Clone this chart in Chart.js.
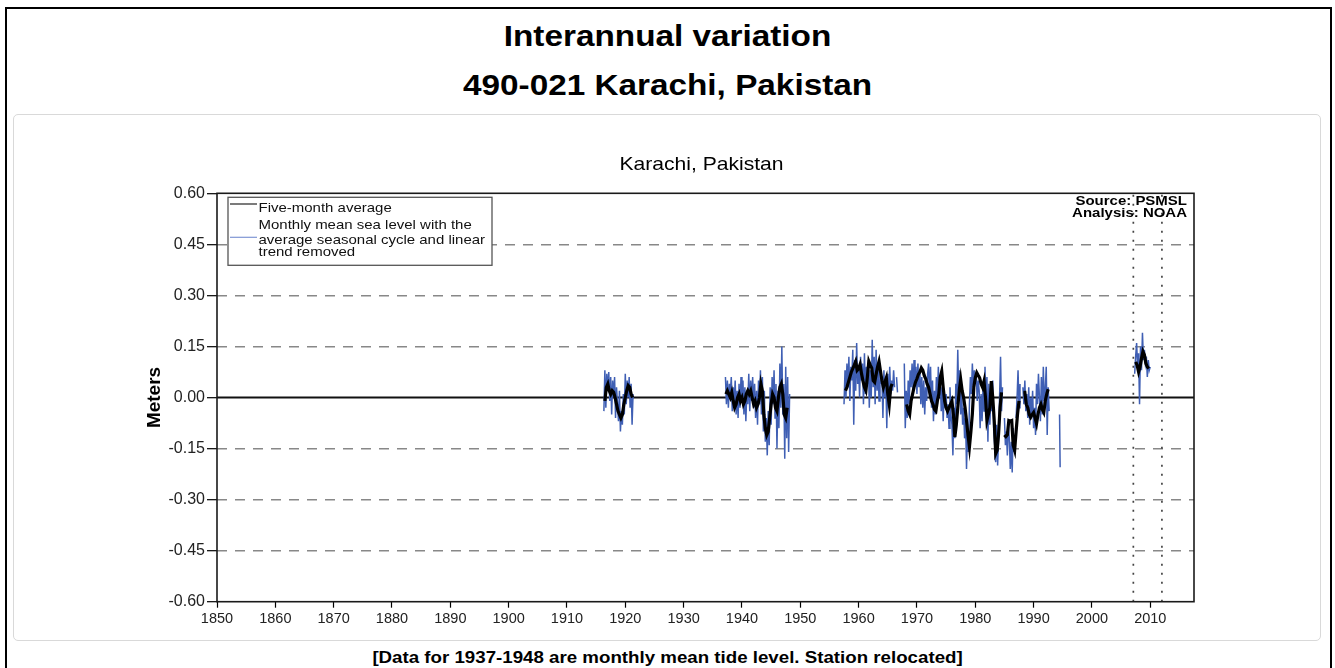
<!DOCTYPE html>
<html>
<head>
<meta charset="utf-8">
<script src="https://cdn.jsdelivr.net/npm/chart.js@4.4.1/dist/chart.umd.min.js"></script>
<style>
body { margin: 0; background: #fff; font-family: Arial, "Liberation Sans", sans-serif; }
#frame { position: absolute; left: 5px; top: 7px; width: 1327px; height: 700px; border: 2px solid #000; box-sizing: border-box; }
.head { position: absolute; left: 0; width: 1335px; text-align: center; font-weight: bold; color: #000; transform: scaleX(1.11); transform-origin: 667px 0; white-space: nowrap; }
.h1 { font-size: 30px; line-height: 30px; }
#note { font-size: 17px; line-height: 17px; transform: scaleX(1.1); }
#panel { position: absolute; left: 13px; top: 114px; width: 1308px; height: 527px; border: 1px solid #d9d9d9; border-radius: 5px; box-sizing: border-box; }
#c { position: absolute; left: 13px; top: 114px; }
</style>
</head>
<body>
<div id="frame"></div>
<div class="head h1" style="top:21px">Interannual variation</div>
<div class="head h1" style="top:70px">490-021 Karachi, Pakistan</div>
<div id="panel"></div>
<canvas id="c" width="1308" height="527"></canvas>
<div class="head" id="note" style="top:649px">[Data for 1937-1948 are monthly mean tide level. Station relocated]</div>
<script>
// axis ticks
const xTicks = [1850, 1860, 1870, 1880, 1890, 1900, 1910, 1920, 1930, 1940, 1950, 1960, 1970, 1980, 1990, 2000, 2010];
const yTicks = [-0.60, -0.45, -0.30, -0.15, 0.00, 0.15, 0.30, 0.45, 0.60];

// station relocation markers (years)
const markerYears = [2007.1, 2012.0];

// monthly mean sea level, seasonal cycle + trend removed (read every ~2 months)
const mon1916 = [-0.04, 0.08, -0.03, 0.07, 0.02, 0.075, -0.01, 0.06, -0.05, 0.05, 0.00, 0.06, -0.06, 0.03, -0.02, -0.07,
  0.02, -0.10, -0.04, -0.08, 0.01, -0.05, 0.07, -0.02, 0.05, 0.00, 0.06, -0.03, 0.04, -0.08, 0.01];
const mon1937 = [
  0.06, -0.02, 0.05, -0.03, 0.04, 0.01,
  0.06, -0.04, 0.03, -0.02, 0.05, -0.05,
  0.02, -0.06, 0.04, -0.03, 0.06, -0.01,
  0.05, -0.05, 0.03, -0.07, 0.02, -0.02,
  0.07, -0.04, 0.05, -0.01, 0.06, -0.03,
  0.04, -0.06, 0.02, -0.08, 0.05, -0.02,
  0.08, -0.05, 0.06, -0.10, 0.02, -0.13,
  -0.06, -0.17, -0.04, -0.14, 0.03, -0.08,
  0.06, -0.02, 0.08, -0.06, 0.04, -0.15,
  0.02, -0.09, 0.10, -0.03, 0.15, -0.05,
  0.04, -0.18, 0.09, -0.12, 0.06, -0.16,
  0.01];
const mon1957 = [
  -0.02, 0.08, 0.00,
  0.10, 0.03, 0.12, -0.01, 0.09, 0.05,
  0.14, -0.08, 0.11, 0.02, 0.16, 0.04,
  0.09, 0.00, 0.12, 0.05, 0.10, -0.02,
  0.13, 0.01, 0.09, 0.04, 0.11, -0.03,
  0.08, 0.00, 0.17, 0.03, 0.12, -0.02,
  0.14, 0.02, 0.09, -0.01, 0.10, 0.04,
  0.06, -0.06, 0.08, 0.00, 0.05, -0.09,
  0.07, -0.02, 0.09, 0.01, 0.05, 0.02,
  0.08, 0.03, null, 0.06, 0.015, null,
  null, null, null, null, null, 0.10,
  -0.09, 0.02, -0.06, 0.05, -0.02, 0.08,
  0.03, 0.10, 0.02, 0.11, 0.04, 0.09,
  0.01, 0.10, 0.03, 0.08, -0.02, 0.06,
  -0.03, 0.05, -0.05, 0.03, -0.01, 0.07,
  0.10, 0.00, 0.09, -0.03, 0.05, -0.07,
  0.02, -0.05, 0.06, -0.02, 0.09, 0.01,
  0.05, -0.04, 0.03, -0.07, 0.02, -0.03,
  0.01, -0.06, -0.02, -0.09, 0.03, -0.05,
  -0.08, -0.17, -0.03, -0.12, 0.04, -0.02,
  0.14, 0.00, 0.08, -0.05, 0.02, -0.08,
  -0.03, -0.12, -0.06, -0.21, -0.10, -0.16,
  -0.02, 0.06, 0.01, 0.10, 0.03, 0.08,
  0.04, 0.07, -0.01, 0.05, 0.02, -0.09,
  0.01, -0.07, 0.03, -0.04, 0.09, -0.02,
  0.06, -0.13, 0.04, -0.08, 0.00, -0.04,
  0.05, -0.10, -0.14, -0.19, -0.08, -0.20,
  -0.12, 0.00, 0.12, -0.04, 0.03, null,
  -0.06, -0.14, -0.10, -0.17, -0.08, -0.12,
  -0.21, -0.13, -0.22, -0.09, -0.16, null,
  -0.06, 0.00, 0.08, -0.03, 0.04, null,
  null, 0.03, -0.02, 0.05, -0.04, 0.01,
  -0.06, 0.03, -0.08, 0.00, -0.05, 0.02,
  -0.09, -0.03, -0.11, 0.04, -0.02, 0.07,
  0.00, -0.07, 0.06, -0.05, 0.09, -0.01,
  0.02, 0.09, -0.11, 0.03, -0.04];
const mon1994 = [-0.05, -0.205];
const mon2007 = [0.07, 0.12, 0.16, 0.09, 0.13, -0.02, 0.15, 0.08, 0.19, 0.11, 0.14, 0.10, 0.12, 0.06, 0.11, 0.08, 0.09];

// five-month average (read quarterly)
const avg1916 = [-0.01, 0.03, 0.04, 0.02, 0.01, 0.02, 0.015, 0.00, -0.02, -0.04, -0.05, -0.06, -0.05, -0.02, 0.00, 0.02,
  0.035, 0.03, 0.01, 0.00];
const avg1937 = [
  0.01, 0.02, 0.01, 0.00,
  0.015, -0.01, -0.03, -0.02,
  0.00, 0.01, -0.01, 0.00,
  -0.02, -0.01, 0.01, 0.02,
  0.01, 0.02, 0.00, -0.02,
  -0.01, -0.03, -0.02, 0.00,
  0.04, 0.02, -0.05, -0.09,
  -0.11, -0.10, -0.06, -0.02,
  0.01, 0.00, -0.03, -0.04,
  0.00, 0.03, 0.04, 0.01,
  -0.05, -0.06, -0.03];
const avg1957 = [
  0.02,
  0.03, 0.045, 0.06, 0.075,
  0.085, 0.095, 0.106, 0.08,
  0.085, 0.097, 0.07, 0.048,
  0.03, 0.02, 0.06, 0.106,
  0.095, 0.087, 0.05, 0.045,
  0.068, 0.09, 0.106, 0.077,
  0.05, 0.03, 0.045, 0.058,
  0.01, -0.02, 0.03, 0.04,
  null, null, null, null,
  null, null, null, null,
  null, -0.02, -0.04, -0.05,
  -0.01, 0.01, 0.03, 0.045,
  0.055, 0.068, 0.075, 0.087,
  0.08, 0.065, 0.055, 0.04,
  0.03, 0.01, -0.01, -0.02,
  -0.035, -0.04, -0.01, 0.01,
  0.06, 0.077, 0.03, -0.01,
  -0.03, -0.04, -0.03, -0.02,
  -0.01, -0.05, -0.116, -0.08,
  -0.03, 0.02, 0.053, 0.02,
  0.00, -0.03, -0.068, -0.11,
  -0.145, -0.10, -0.048, 0.03,
  0.058, 0.073, 0.065, 0.058,
  0.04, 0.03, 0.048, 0.00,
  -0.068, -0.05, -0.03, 0.048,
  0.00, -0.068, -0.165, -0.155,
  -0.106, -0.03, 0.015, null,
  -0.11, -0.115, -0.11, -0.068,
  -0.07, -0.068, -0.14, -0.155,
  -0.10, -0.048, -0.01, null,
  null, 0.015, 0.015, -0.02,
  -0.03, -0.05, -0.058, -0.05,
  -0.044, -0.06, -0.077, -0.05,
  -0.03, -0.02, -0.035, -0.044,
  -0.01, 0.01, 0.024];
const avg2007 = [0.105, 0.095, 0.075, 0.09, 0.115, 0.135, 0.125, 0.10, 0.09, 0.085];

const M = 1 / 6;
const monthlyParts = [[1916.33, M, mon1916], [1937.17, M, mon1937], [1957.5, M, mon1957], [1994.45, 0.1, mon1994], [2007.33, M, mon2007]];
const averageParts = [[1916.5, 0.25, avg1916], [1937.25, 0.25, avg1937], [1957.75, 0.25, avg1957], [2007.5, 0.25, avg2007]];

const BLUE = '#3f5fb4';
const FONT = 'Arial, "Liberation Sans", sans-serif';

// turn record pieces into {x, y} points with a break between them
function series(parts) {
  const pts = [];
  parts.forEach(([start, step, vals], k) => {
    if (k > 0) pts.push({x: start - step, y: null});
    vals.forEach((v, i) => pts.push({x: start + i * step, y: v}));
  });
  return pts;
}

function wideText(ctx, text, x, y, align) {
  ctx.save();
  ctx.translate(x, y);
  ctx.scale(1.11, 1);
  ctx.textAlign = align;
  ctx.fillText(text, 0, 0);
  ctx.restore();
}

// frame, legend box, title and source note
const decor = {
  id: 'decor',
  afterDatasetsDraw(chart) {
    const {ctx, chartArea: a} = chart;
    ctx.save();
    ctx.strokeStyle = '#1a1a1a';
    ctx.lineWidth = 1.6;
    ctx.strokeRect(a.left, a.top, a.right - a.left, a.bottom - a.top);

    ctx.fillStyle = '#000';
    ctx.font = '19px ' + FONT;
    ctx.textBaseline = 'middle';
    wideText(ctx, 'Karachi, Pakistan', (a.left + a.right) / 2 - 4, 51, 'center');

    ctx.font = 'bold 13.5px ' + FONT;
    wideText(ctx, 'Source: PSMSL', a.right - 7, a.top + 7.5, 'right');
    wideText(ctx, 'Analysis: NOAA', a.right - 7, a.top + 20, 'right');

    // legend
    const lx = a.left + 11, ly = a.top + 4;
    ctx.fillStyle = '#fff';
    ctx.fillRect(lx, ly, 264, 68);
    ctx.strokeStyle = '#555';
    ctx.lineWidth = 1.3;
    ctx.strokeRect(lx, ly, 264, 68);
    ctx.lineWidth = 1.2;
    ctx.strokeStyle = '#222';
    ctx.beginPath(); ctx.moveTo(lx + 2, ly + 6.7); ctx.lineTo(lx + 29, ly + 6.7); ctx.stroke();
    ctx.strokeStyle = '#7f96d4';
    ctx.beginPath(); ctx.moveTo(lx + 2, ly + 40); ctx.lineTo(lx + 29, ly + 40); ctx.stroke();
    ctx.fillStyle = '#111';
    ctx.font = '13.5px ' + FONT;
    ctx.textBaseline = 'alphabetic';
    wideText(ctx, 'Five-month average', lx + 30.5, ly + 14.7, 'left');
    wideText(ctx, 'Monthly mean sea level with the', lx + 30.5, ly + 31.2, 'left');
    wideText(ctx, 'average seasonal cycle and linear', lx + 30.5, ly + 46.7, 'left');
    wideText(ctx, 'trend removed', lx + 30.5, ly + 58.4, 'left');
    ctx.restore();
  }
};

Chart.defaults.font.family = FONT;

new Chart(document.getElementById('c'), {
  type: 'line',
  data: {
    datasets: [
      {
        label: 'Five-month average',
        data: series(averageParts),
        borderColor: '#000',
        borderWidth: 3.2,
        pointRadius: 0,
        tension: 0
      },
      {
        label: 'Monthly mean sea level with the average seasonal cycle and linear trend removed',
        data: series(monthlyParts),
        borderColor: BLUE,
        borderWidth: 1.5,
        pointRadius: 0,
        tension: 0
      },
      {
        label: 'zero',
        data: [{x: 1850, y: 0}, {x: 2017.5, y: 0}],
        borderColor: '#111',
        borderWidth: 1.8,
        pointRadius: 0
      },
      ...markerYears.map(yr => ({
        label: 'marker',
        data: [{x: yr, y: -0.6}, {x: yr, y: 0.6}],
        borderColor: '#444',
        borderWidth: 1.7,
        borderDash: [2, 7],
        pointRadius: 0
      }))
    ]
  },
  options: {
    responsive: false,
    animation: false,
    layout: {padding: {top: 79.3, right: 127, left: 0, bottom: 0}},
    plugins: {
      legend: {display: false},
      tooltip: {enabled: false},
      title: {display: false}
    },
    scales: {
      x: {
        type: 'linear',
        min: 1850,
        max: 2017.5,
        afterBuildTicks: s => { s.ticks = xTicks.map(v => ({value: v})); },
        afterFit: s => { s.height = 39.3; },
        grid: {drawOnChartArea: false, tickLength: 6, tickColor: '#000', tickWidth: 1.2},
        border: {display: false},
        ticks: {
          callback: v => String(v),
          color: '#222',
          font: {size: 14.5},
          padding: 3,
          maxRotation: 0,
          autoSkip: false
        }
      },
      y: {
        min: -0.6,
        max: 0.6,
        afterBuildTicks: s => { s.ticks = yTicks.map(v => ({value: v})); },
        afterFit: s => { s.width = 204; },
        grid: {
          color: c => (c.tick && Math.abs(c.tick.value) > 0.01 && Math.abs(c.tick.value) < 0.59) ? '#888' : 'rgba(0,0,0,0)',
          lineWidth: 1.4,
          tickLength: 10,
          tickColor: '#000',
          tickWidth: 1.2
        },
        border: {display: false, dash: [10, 8]},
        ticks: {
          callback: v => v.toFixed(2),
          color: '#222',
          font: {size: 16},
          padding: 2,
          autoSkip: false
        },
        title: {
          display: true,
          text: 'Meters',
          color: '#000',
          font: {size: 19, weight: 'bold'},
          padding: {top: 130.6, bottom: 0}
        }
      }
    }
  },
  plugins: [decor]
});
</script>
</body>
</html>
